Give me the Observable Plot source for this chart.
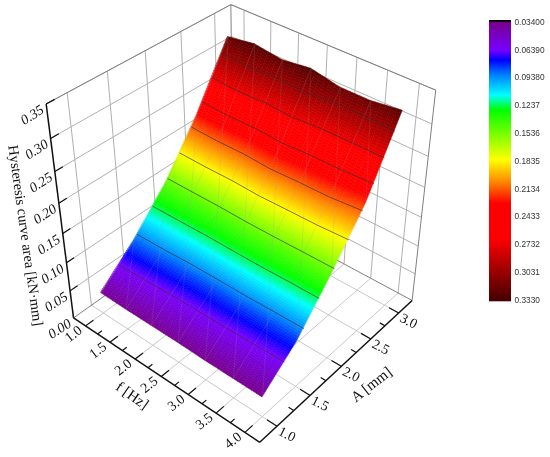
<!DOCTYPE html><html><head><meta charset="utf-8"><style>html,body{margin:0;background:#fff}svg{display:block;filter:blur(0.35px)}</style></head><body><script src="https://cdn.jsdelivr.net/npm/d3@7"></script><script src="https://cdn.jsdelivr.net/npm/@observablehq/plot@0.6"></script>
<div id="chart"></div>
<script>
// ---- data ----
const freqs = [1, 1.5, 2, 2.5, 3, 3.5, 4];
const amps = [1, 1.5, 2, 2.5, 3];
const areaA10 = [0.037, 0.036, 0.036, 0.036, 0.035, 0.035, 0.035];
const areaA15 = [0.087, 0.086, 0.084, 0.083, 0.083, 0.082, 0.081];
const areaA20 = [0.148, 0.148, 0.148, 0.149, 0.149, 0.148, 0.148];
const areaA25 = [0.2265, 0.229, 0.228, 0.232, 0.229, 0.228, 0.2215];
const areaA30 = [0.322, 0.329, 0.323, 0.329, 0.320, 0.320, 0.326];
const fTicks = [1, 1.5, 2, 2.5, 3, 3.5, 4];
const fMinor = [1.25, 1.75, 2.25, 2.75, 3.25, 3.75];
const aTicks = [1, 1.5, 2, 2.5, 3];
const aMinor = [1.25, 1.75, 2.25, 2.75];
const zTicks = [0, 0.05, 0.10, 0.15, 0.20, 0.25, 0.30, 0.35];
const levels = [0.0639, 0.0938, 0.1237, 0.1536, 0.1835, 0.2134, 0.2433, 0.2732, 0.3031];
const legendLabels = ["0.03400","0.06390","0.09380","0.1237","0.1536","0.1835","0.2134","0.2433","0.2732","0.3031","0.3330"];
const legendValues = [0.034,0.0639,0.0938,0.1237,0.1536,0.1835,0.2134,0.2433,0.2732,0.3031,0.333];
const colorStops = [0.0322,0.0335,0.0349,0.0645,0.0752,0.0913,0.1129,0.129,0.1828,0.2076,0.2291,0.2668,0.3335];
const colorRange = ["#000","#000","#78008c","#7800ff","#0000ff","#0080ff","#00ffff","#00ff00","#ffff00","#ff8000","#ff0000","#ff0000","#460000"];
const xLabel = "f [Hz]", yLabel = "A [mm]", zLabel = "Hysteresis curve area [kN·mm]";

// ---- axis box and camera ----
const fLo = 0.75, fHi = 4.25, aLo = 0.75, aHi = 3.25, zLo = 0, zHi = 0.35;
const cam = [[45.8663,77.92646,-9.71626,-18.53868],[22.07467,-34.84307,-66.182,332.52436],[-0.03189,0.05519,-0.0385,1]];
const proj = (f,a,z) => { const v=[f,a,z*10,1], w=d3.sum(cam[2],(c,i)=>c*v[i]);
  return [d3.sum(cam[0],(c,i)=>c*v[i])/w, d3.sum(cam[1],(c,i)=>c*v[i])/w]; };
const seg = (p,q,key) => { const P=proj(...p),Q=proj(...q); return {x1:P[0],y1:P[1],x2:Q[0],y2:Q[1],key}; };

// surface grid
const rows = [areaA10, areaA15, areaA20, areaA25, areaA30];
const zAt = (i,j,s,t) => { const r0=rows[j], r1=rows[Math.min(j+1,4)], i1=Math.min(i+1,6);
  return (1-t)*((1-s)*r0[i]+s*r0[i1]) + t*((1-s)*r1[i]+s*r1[i1]); };

const nF=6, nA=30, quads=[];
let id=0;
for (let i=0;i<6;i++) for (let j=0;j<4;j++) for (let a=0;a<nF;a++) for (let b=0;b<nA;b++) {
  const s0=a/nF,s1=(a+1)/nF,t0=b/nA,t1=(b+1)/nA;
  const fv=s=>freqs[i]+s*0.5, av=t=>amps[j]+t*0.5;
  const c=(s,t)=>proj(fv(s),av(t),zAt(i,j,s,t));
  const v=zAt(i,j,(s0+s1)/2,(t0+t1)/2);
  const A=c(s0,t0),B=c(s0,t1),C=c(s1,t0),D=c(s1,t1);
  quads.push({x1:A[0],y1:A[1],x2:B[0],y2:B[1],k:id,v},{x1:C[0],y1:C[1],x2:D[0],y2:D[1],k:id,v});
  id++;
}
// faint triangulated mesh
const mesh=[];
freqs.forEach((f,i)=>{ for(let j=0;j<4;j++) mesh.push(seg([f,amps[j],rows[j][i]],[f,amps[j+1],rows[j+1][i]])); });
for(let i=0;i<6;i++) for(let j=0;j<4;j++) mesh.push(seg([freqs[i],amps[j+1],rows[j+1][i]],[freqs[i+1],amps[j],rows[j][i+1]]));
// contours
const contours=[];
levels.forEach((lv,n)=>freqs.forEach((f,i)=>{
  for(let j=0;j<4;j++){ const a=rows[j][i],b=rows[j+1][i];
    if(a<=lv&&lv<b){ const p=proj(f,amps[j]+0.5*(lv-a)/(b-a),lv); contours.push({x:p[0],y:p[1],n}); break; } }
}));
// grid
const grid=[];
aTicks.forEach(a=>{ grid.push(seg([fLo,a,zLo],[fHi,a,zLo],"floor")); grid.push(seg([fLo,a,zLo],[fLo,a,zHi],"wall")); });
fTicks.forEach(f=>{ grid.push(seg([f,aLo,zLo],[f,aHi,zLo],"floor")); grid.push(seg([f,aHi,zLo],[f,aHi,zHi],"wall")); });
zTicks.slice(1).forEach(z=>{ grid.push(seg([fLo,aLo,z],[fLo,aHi,z],"wall")); grid.push(seg([fLo,aHi,z],[fHi,aHi,z],"wall")); });
const box=[seg([fLo,aLo,zHi],[fLo,aHi,zHi]),seg([fLo,aHi,zHi],[fHi,aHi,zHi]),seg([fLo,aHi,zLo],[fLo,aHi,zHi]),seg([fHi,aHi,zLo],[fHi,aHi,zHi]),seg([fLo,aHi,zLo],[fHi,aHi,zLo]),seg([fLo,aLo,zLo],[fLo,aHi,zLo])];
const axes=[seg([fLo,aLo,zLo],[fLo,aLo,zHi]),seg([fLo,aLo,zLo],[fHi,aLo,zLo]),seg([fHi,aLo,zLo],[fHi,aHi,zLo])];
const ticks=[
  ...fTicks.map(f=>seg([f,aLo,0],[f,aLo+0.11,0])), ...fMinor.map(f=>seg([f,aLo,0],[f,aLo+0.06,0])),
  ...aTicks.map(a=>seg([fHi,a,0],[fHi-0.17,a,0])), ...aMinor.map(a=>seg([fHi,a,0],[fHi-0.09,a,0])),
  ...zTicks.slice(1).map(z=>seg([fLo,aLo,z],[fLo,aLo+0.1,z]))
];
const lbl=(t,p)=>{const q=proj(...p);return {t,x:q[0],y:q[1]};};
const zLabs=zTicks.map(z=>lbl(z.toFixed(2),[fLo,aLo,z]));
const fLabs=fTicks.map(f=>lbl(f.toFixed(1),[f,aLo,0]));
const aLabs=aTicks.map(a=>lbl(a.toFixed(1),[fHi,a,0]));
const fT=lbl(xLabel,[2.5,aLo,0]), aT=lbl(yLabel,[fHi,2,0]);

// legend
const legendY=d3.scaleLinear([0.034,0.333],[21.7,299.6]);
const legendCells=d3.range(281).map(k=>({y:20+k,v:legendY.invert(20.5+k)}));
const legendLabs=legendLabels.map((t,i)=>({t,y:legendY(legendValues[i])}));

const serif="Liberation Serif", ink="#111";
const chart=Plot.plot({
  width:550,height:457,margin:0,
  x:{domain:[0,550],range:[0,550],axis:null},
  y:{domain:[0,457],range:[0,457],axis:null},
  color:{type:"linear",domain:colorStops,range:colorRange,interpolate:"rgb",clamp:true},
  marks:[
    Plot.link(grid,{x1:"x1",y1:"y1",x2:"x2",y2:"y2",stroke:d=>d.key==="floor"?"#c8c8c8":"#b0b0b0",strokeWidth:1}),
    Plot.link(box,{x1:"x1",y1:"y1",x2:"x2",y2:"y2",stroke:"#808080",strokeWidth:1}),
    Plot.area(quads,{x1:"x1",y1:"y1",x2:"x2",y2:"y2",z:"k",fill:"v",stroke:"v",strokeWidth:0.6}),
    Plot.link(mesh,{x1:"x1",y1:"y1",x2:"x2",y2:"y2",stroke:"#999",strokeOpacity:0.22,strokeWidth:0.8}),
    Plot.line(contours,{x:"x",y:"y",z:"n",stroke:"#303030",strokeOpacity:0.65,strokeWidth:1}),
    Plot.link(axes,{x1:"x1",y1:"y1",x2:"x2",y2:"y2",stroke:"#111",strokeWidth:1.5}),
    Plot.link(ticks,{x1:"x1",y1:"y1",x2:"x2",y2:"y2",stroke:"#111",strokeWidth:1.2}),
    Plot.text(zLabs,{x:"x",y:"y",text:"t",dx:-14,dy:11,rotate:-33,fontFamily:serif,fontSize:14,fontStyle:"italic",fill:ink}),
    Plot.text(fLabs,{x:"x",y:"y",text:"t",dx:-12,dy:8,rotate:-38,fontFamily:serif,fontSize:14,fill:ink}),
    Plot.text(aLabs,{x:"x",y:"y",text:"t",dx:10,dy:8,rotate:27,fontFamily:serif,fontSize:14,fill:ink}),
    Plot.text([fT],{x:"x",y:"y",text:"t",dx:-29,dy:19,rotate:35,fontFamily:serif,fontSize:15,fill:ink}),
    Plot.text([aT],{x:"x",y:"y",text:"t",dx:30,dy:18,rotate:-38,fontFamily:serif,fontSize:15,fill:ink}),
    Plot.text([zLabel],{x:()=>25,y:()=>235,text:d=>d,rotate:82,fontFamily:serif,fontSize:14.5,fill:ink}),
    Plot.rect(legendCells,{x1:()=>489,x2:()=>511,y1:"y",y2:d=>d.y+1.3,fill:"v"}),
    Plot.text(legendLabs,{x:()=>514,y:"y",text:"t",textAnchor:"start",fontFamily:"Liberation Sans",fontSize:8.3,fill:"#333"})
  ]
});
document.getElementById("chart").append(chart);
</script></body></html>
